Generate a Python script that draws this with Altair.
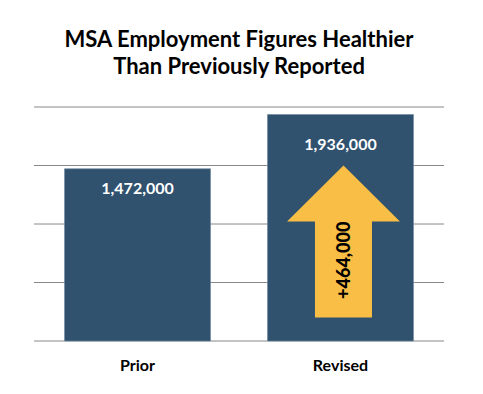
import altair as alt
import pandas as pd

categories = ["Prior", "Revised"]
values = [1472000, 1936000]
grid_values = [0, 500000, 1000000, 1500000, 2000000]
title_lines = ["MSA Employment Figures Healthier", "Than Previously Reported"]

change = values[1] - values[0]
arrow_mid = 850000  # vertical centre of the decorative arrow (data units)
label_mid = 690000

df = pd.DataFrame({"category": categories, "value": values})
df["label"] = df["value"].map(lambda v: f"{v:,}")
grid_df = pd.DataFrame({"g": grid_values})

ann = pd.DataFrame({"category": ["Revised"], "y": [arrow_mid], "ylab": [label_mid],
                    "text": [f"+{change:,}"]})

FONT = "Lato"
BAR = "#30526F"
ARROW = "#F8BE45"

x = alt.X("category:N", sort=categories,
          scale=alt.Scale(paddingInner=0, paddingOuter=0.01),
          axis=alt.Axis(title=None, labelAngle=0, labelFont=FONT, labelFontSize=16,
                        labelFontWeight="bold", labelColor="#000000", ticks=False,
                        domain=False, labelPadding=16))
y = alt.Y("value:Q", scale=alt.Scale(domain=[0, 2000000]),
          axis=alt.Axis(title=None, labels=False, ticks=False, domain=False, grid=False))

grid = alt.Chart(grid_df).mark_rule(color="#888888", strokeWidth=1).encode(
    y=alt.Y("g:Q", scale=alt.Scale(domain=[0, 2000000]), axis=None))

bars = alt.Chart(df).mark_bar(size=146, color=BAR, stroke="#6d86a0", strokeWidth=0.6).encode(x=x, y=y)

lab_prior = alt.Chart(df).transform_filter(alt.datum.category == "Prior").mark_text(
    font=FONT, fontSize=16, fontWeight="bold", color="white", baseline="middle", dy=20
).encode(x=alt.X("category:N", sort=categories), y="value:Q", text="label:N")
lab_rev = alt.Chart(df).transform_filter(alt.datum.category == "Revised").mark_text(
    font=FONT, fontSize=16, fontWeight="bold", color="white", baseline="middle", dy=31
).encode(x=alt.X("category:N", sort=categories), y="value:Q", text="label:N")

arrow_path = "M0,-1L0.743,-0.263L0.375,-0.263L0.375,1L-0.375,1L-0.375,-0.263L-0.743,-0.263Z"
arrow = alt.Chart(ann).mark_point(shape=arrow_path, filled=True, opacity=1, color=ARROW,
                                  strokeWidth=0, xOffset=3).encode(
    x=alt.X("category:N", sort=categories), y=alt.Y("y:Q"), size=alt.value(23104))

arrow_text = alt.Chart(ann).mark_text(font=FONT, fontSize=18, fontWeight=900, color="#000000",
                                      angle=270, baseline="middle", align="center", dy=5).encode(
    x=alt.X("category:N", sort=categories), y=alt.Y("ylab:Q"), text="text:N")

chart = alt.layer(grid, bars, lab_prior, lab_rev, arrow, arrow_text).properties(
    width=410, height=234,
    title=alt.TitleParams(title_lines, font=FONT, fontSize=22, fontWeight="bold",
                          color="#000000", anchor="middle", lineHeight=27, offset=28),
    padding={"left": 25, "top": 20, "right": 10, "bottom": 10},
).configure_view(stroke=None)

chart.save("out.html", embed_options={"renderer": "svg", "actions": False})
